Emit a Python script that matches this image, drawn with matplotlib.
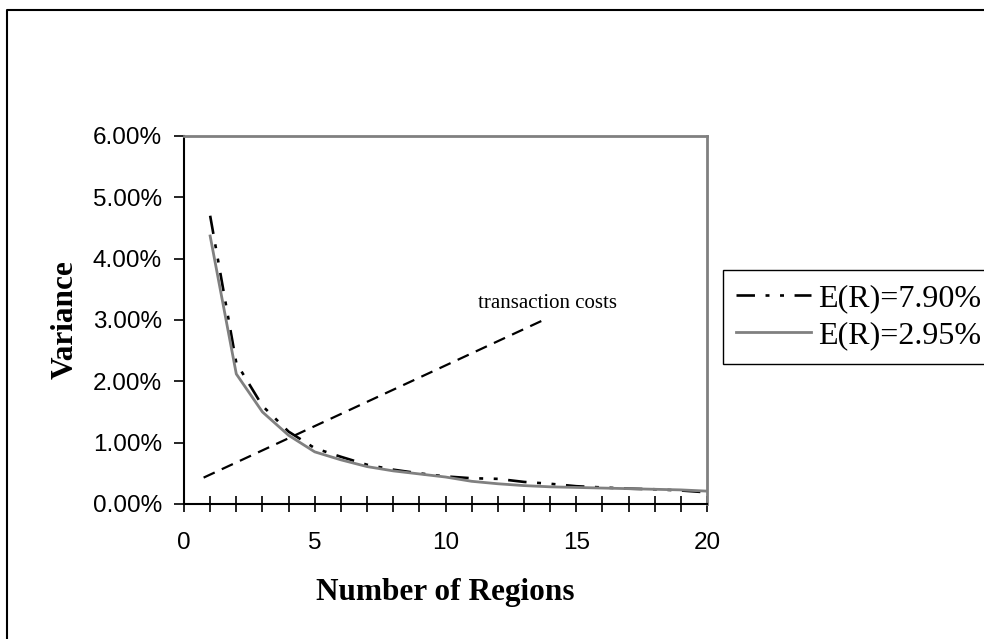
import matplotlib
matplotlib.use("Agg")
import matplotlib.pyplot as plt
from matplotlib.lines import Line2D
from matplotlib.ticker import FuncFormatter, MultipleLocator

# ---- data ----
regions = [1, 2, 3, 4, 5, 6, 7, 8, 9, 10, 11, 12, 13, 14, 15, 16, 17, 18, 19, 20]
var_er790 = [4.70, 2.30, 1.60, 1.18, 0.91, 0.77, 0.64, 0.56, 0.50, 0.45,
             0.42, 0.41, 0.36, 0.33, 0.29, 0.27, 0.25, 0.24, 0.22, 0.19]
var_er295 = [4.37, 2.12, 1.50, 1.12, 0.85, 0.72, 0.61, 0.54, 0.49, 0.44,
             0.37, 0.33, 0.30, 0.28, 0.27, 0.26, 0.25, 0.24, 0.23, 0.21]
tc_x = [0.75, 13.75]
tc_y = [0.43, 3.00]
series_labels = ["E(R)=7.90%", "E(R)=2.95%"]
y_ticks = [0, 1, 2, 3, 4, 5, 6]
x_ticks = [0, 5, 10, 15, 20]

W, H = 984, 639
fig = plt.figure(figsize=(W / 100, H / 100), dpi=100)
fig.patch.set_facecolor("white")

ax = fig.add_axes([184 / W, 1 - 504 / H, (707 - 184) / W, (504 - 136) / H])

l1, = ax.plot(regions, var_er790, color="black", lw=1.9,
              dashes=(7, 4, 1.5, 4, 1.5, 4), solid_capstyle="butt",
              dash_capstyle="butt")
l2, = ax.plot(regions, var_er295, color="#808080", lw=2.0)
ax.plot(tc_x, tc_y, color="black", lw=1.6, dashes=(5.5, 3.5))

ax.text(13.9, 3.11, "transaction costs", family="Liberation Serif",
        fontsize=15, ha="center", va="bottom")

ax.set_xlim(0, 20)
ax.set_ylim(0, 6)
ax.set_xticks(x_ticks)
ax.xaxis.set_minor_locator(MultipleLocator(1))
ax.set_yticks(y_ticks)
ax.yaxis.set_major_formatter(FuncFormatter(lambda v, p: f"{v:.2f}%"))

for lab in ax.get_xticklabels() + ax.get_yticklabels():
    lab.set_family("Liberation Sans")
    lab.set_fontsize(17.5)

ax.tick_params(axis="x", which="both", direction="inout", length=11,
               width=1.2, color="black", pad=15)
ax.tick_params(axis="y", which="major", direction="out", length=7,
               width=1.2, color="black", pad=9)

for side in ["left", "bottom"]:
    ax.spines[side].set_color("black")
    ax.spines[side].set_linewidth(1.5)
for side in ["top", "right"]:
    ax.spines[side].set_color("#808080")
    ax.spines[side].set_linewidth(2.0)
ax.spines["bottom"].set_zorder(5)

ax.set_xlabel("Number of Regions", family="Liberation Serif",
              fontweight="bold", fontsize=22.5, labelpad=17)
ax.set_ylabel("Variance", family="Liberation Serif",
              fontweight="bold", fontsize=22.5, labelpad=9)

leg = fig.legend([l1, l2], series_labels, loc="upper left",
                 bbox_to_anchor=(723 / W, 1 - 270 / H),
                 prop={"family": "Liberation Serif", "size": 23},
                 frameon=True, fancybox=False, framealpha=1,
                 edgecolor="black", handlelength=2.35, handletextpad=0.2,
                 borderpad=0.42, labelspacing=0.26, borderaxespad=0)
leg.get_frame().set_linewidth(1.0)

# outer chart border (left and top visible)
fig.add_artist(Line2D([6.5 / W, 6.5 / W, 1.0], [0.0, 1 - 10 / H, 1 - 10 / H],
                      transform=fig.transFigure, color="black", lw=1.5))

fig.savefig("out.png", dpi=100, facecolor="white")
